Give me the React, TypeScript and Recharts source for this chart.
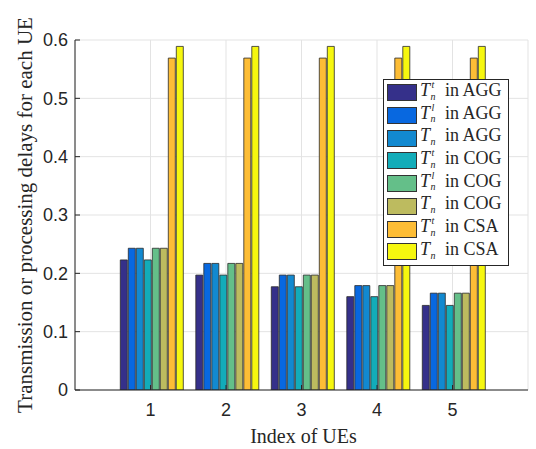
import React from 'react';
import { BarChart, Bar, XAxis, YAxis, CartesianGrid, Label } from 'recharts';

const categories = ['1', '2', '3', '4', '5'];
const aggTt = [0.223, 0.197, 0.177, 0.16, 0.145];
const aggTl = [0.243, 0.217, 0.197, 0.179, 0.166];
const aggT = [0.243, 0.217, 0.197, 0.179, 0.166];
const cogTt = [0.223, 0.197, 0.177, 0.16, 0.145];
const cogTl = [0.243, 0.217, 0.197, 0.179, 0.166];
const cogT = [0.243, 0.217, 0.197, 0.179, 0.166];
const csaTt = [0.569, 0.569, 0.569, 0.569, 0.569];
const csaT = [0.589, 0.589, 0.589, 0.589, 0.589];

const yTicks = [0, 0.1, 0.2, 0.3, 0.4, 0.5, 0.6];

const seriesKeys = ['aggTt', 'aggTl', 'aggT', 'cogTt', 'cogTl', 'cogT', 'csaTt', 'csaT'];
const seriesValues = [aggTt, aggTl, aggT, cogTt, cogTl, cogT, csaTt, csaT];
const seriesSup = ['t', 'l', '', 't', 'l', '', 't', ''];
const seriesScheme = ['AGG', 'AGG', 'AGG', 'COG', 'COG', 'COG', 'CSA', 'CSA'];
const seriesColors = ['#35308a', '#0868e0', '#1289d0', '#12acb9', '#64bf89', '#bdbb5f', '#fdbd36', '#f6f70f'];

const data = categories.map((c, i) => {
  const row: any = { ue: c };
  seriesKeys.forEach((k, j) => {
    row[k] = seriesValues[j][i];
  });
  return row;
});

const AXIS = '#262626';
const SERIF = '"Liberation Serif", "Times New Roman", serif';
const SANS = '"Liberation Sans", Arial, sans-serif';

function MathT({ sup }: { sup: string }) {
  return (
    <span style={{ position: 'relative', display: 'inline-block', width: 25, height: 17 }}>
      <span style={{ position: 'absolute', left: 0, top: -2.5, fontStyle: 'italic', lineHeight: '17px' }}>T</span>
      {sup ? (
        <span style={{ position: 'absolute', left: 11.5, top: -3.2, fontStyle: 'italic', fontSize: 10, lineHeight: '7px' }}>{sup}</span>
      ) : null}
      <span style={{ position: 'absolute', left: 10.5, top: 8.4, fontStyle: 'italic', fontSize: 10, lineHeight: '7px' }}>n</span>
    </span>
  );
}

function LegendBox() {
  return (
    <div
      style={{
        position: 'absolute',
        left: 383,
        top: 79,
        width: 124,
        height: 185,
        border: `1px solid ${AXIS}`,
        background: '#fff',
        fontFamily: SERIF,
        fontSize: 18,
        color: AXIS,
      }}
    >
      {seriesKeys.map((k, i) => (
        <div
          key={k}
          style={{ position: 'absolute', left: 3, top: 4.3 + 22.7 * i, height: 17, display: 'flex', alignItems: 'center', whiteSpace: 'nowrap' }}
        >
          <div
            style={{
              width: 28,
              height: 15,
              background: seriesColors[i],
              border: '1px solid #333',
              marginRight: 3,
            }}
          />
          <MathT sup={seriesSup[i]} />
          <span style={{ lineHeight: '17px', position: 'relative', top: -2.5 }}>{'in ' + seriesScheme[i]}</span>
        </div>
      ))}
    </div>
  );
}

export default function App() {
  return (
    <div style={{ position: 'absolute', left: 0, top: 0, width: 536, height: 449, background: '#fff' }}>
      <BarChart
        width={536}
        height={449}
        data={data}
        margin={{ top: 40, right: 8, bottom: 0, left: 0 }}
        barCategoryGap="10%"
        barGap={1}
      >
        <CartesianGrid stroke="#e3e3e3" strokeWidth={1} />
        <XAxis
          dataKey="ue"
          xAxisId={0}
          height={59}
          padding={{ left: 37.75, right: 37.75 }}
          axisLine={{ stroke: AXIS, strokeWidth: 1 }}
          tickLine={{ stroke: AXIS }}
          tickSize={-5}
          tickMargin={18}
          tick={{ fill: AXIS, fontSize: 18, fontFamily: SANS }}
        >
          <Label
            content={(props: any) => {
              const vb = props.viewBox;
              return (
                <text
                  x={vb.x + vb.width / 2 + 2}
                  y={443}
                  textAnchor="middle"
                  fontFamily={SERIF}
                  fontSize={20}
                  fill={AXIS}
                >
                  Index of UEs
                </text>
              );
            }}
          />
        </XAxis>
        <XAxis
          dataKey="ue"
          xAxisId="top"
          orientation="top"
          height={0}
          padding={{ left: 37.75, right: 37.75 }}
          axisLine={{ stroke: AXIS, strokeWidth: 1 }}
          tickLine={{ stroke: AXIS }}
          tickSize={-5}
          tick={false}
        />
        <YAxis
          yAxisId={0}
          width={75}
          domain={[0, 0.6]}
          ticks={yTicks}
          type="number"
          allowDataOverflow
          axisLine={{ stroke: AXIS, strokeWidth: 1 }}
          tickLine={{ stroke: AXIS }}
          tickSize={-5}
          tickMargin={12}
          tick={{ fill: AXIS, fontSize: 18, fontFamily: SANS }}
        >
          <Label
            content={(props: any) => {
              const vb = props.viewBox;
              const cy = vb.y + vb.height / 2;
              return (
                <text
                  x={32}
                  y={cy}
                  transform={`rotate(-90, 32, ${cy})`}
                  textAnchor="middle"
                  fontFamily={SERIF}
                  fontSize={21}
                  fill={AXIS}
                >
                  Transmission or processing delays for each UE
                </text>
              );
            }}
          />
        </YAxis>
        <YAxis
          yAxisId="right"
          orientation="right"
          width={0}
          domain={[0, 0.6]}
          ticks={yTicks}
          type="number"
          axisLine={{ stroke: AXIS, strokeWidth: 1 }}
          tickLine={{ stroke: AXIS }}
          tickSize={-5}
          tick={false}
        />
        {seriesKeys.map((k, i) => (
          <Bar
            key={k}
            dataKey={k}
            xAxisId={0}
            yAxisId={0}
            fill={seriesColors[i]}
            stroke="#2a2a2a"
            strokeWidth={0.8}
            isAnimationActive={false}
          />
        ))}
      </BarChart>
      <LegendBox />
    </div>
  );
}
